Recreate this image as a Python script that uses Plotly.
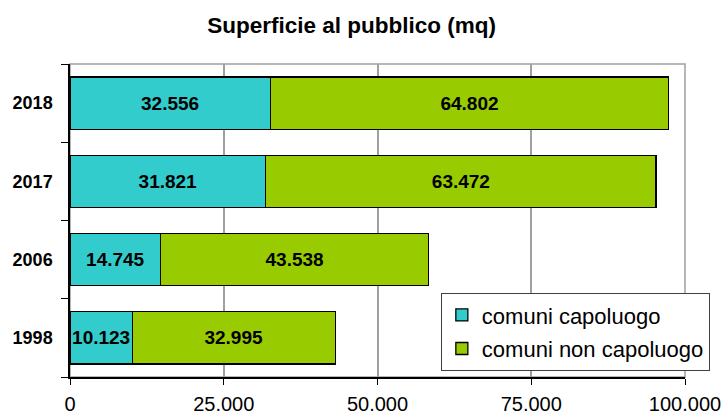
import plotly.graph_objects as go

anni = ["1998", "2006", "2017", "2018"]
capoluogo = [10123, 14745, 31821, 32556]
non_capoluogo = [32995, 43538, 63472, 64802]
x_ticks = [0, 25000, 50000, 75000, 100000]

FONT = "Liberation Sans, Arial"

fig = go.Figure()

# comuni capoluogo
fig.add_trace(go.Bar(
    y=anni, x=capoluogo, orientation="h", name="comuni capoluogo",
    marker=dict(color="#33CCCC", line=dict(color="black", width=1.3)),
    texttemplate="%{x:,.0f}", textposition="inside", insidetextanchor="middle",
    constraintext="none",
    textfont=dict(family=FONT, size=19, color="black", weight="bold"),
    legendgroup="a",
))
# comuni non capoluogo
fig.add_trace(go.Bar(
    y=anni, x=non_capoluogo, orientation="h", name="comuni non capoluogo",
    marker=dict(color="#99CC00", line=dict(color="black", width=1.3)),
    texttemplate="%{x:,.0f}", textposition="inside", insidetextanchor="middle",
    constraintext="none",
    textfont=dict(family=FONT, size=19, color="black", weight="bold"),
    legendgroup="b",
))

# cornice grigia dell'area del grafico
fig.add_shape(type="rect", xref="paper", yref="paper", x0=0, x1=1, y0=0, y1=1,
              line=dict(color="#A0A0A0", width=1.5), layer="below")

fig.update_layout(
    title=dict(text="<b>Superficie al pubblico (mq)</b>", x=0.487, xanchor="center",
               y=0.94, yanchor="middle",
               font=dict(family=FONT, size=22.5, color="black")),
    barmode="stack",
    bargap=0.33,
    separators=",.",
    width=722, height=414,
    margin=dict(l=70, r=35, t=64, b=37),
    plot_bgcolor="white", paper_bgcolor="white",
    font=dict(family=FONT, color="black"),
    xaxis=dict(range=[0, 100000], tickvals=x_ticks, tickformat=",.0f",
               showgrid=True, gridcolor="#A0A0A0", gridwidth=1.5,
               showline=True, linecolor="black", linewidth=1.5,
               ticks="outside", ticklen=6, tickcolor="black",
               tickfont=dict(size=20), zeroline=False, automargin=False,
               ticklabelstandoff=2),
    yaxis=dict(categoryorder="array", categoryarray=anni,
               showline=True, linecolor="black", linewidth=1.5,
               ticks="outside", ticklen=7, tickcolor="black", tickson="boundaries",
               tickfont=dict(size=18, weight="bold"), showgrid=False,
               automargin=False, ticklabelstandoff=12),
    legend=dict(x=0.603, y=0.268, xanchor="left", yanchor="top",
                bordercolor="#404040", borderwidth=1, bgcolor="white",
                font=dict(size=22), traceorder="grouped", tracegroupgap=2),
)

# niente margine della pagina, così la figura parte da 0,0
fig.write_html("out.html", config={"displayModeBar": False},
               post_script="document.body.style.margin='0';")
